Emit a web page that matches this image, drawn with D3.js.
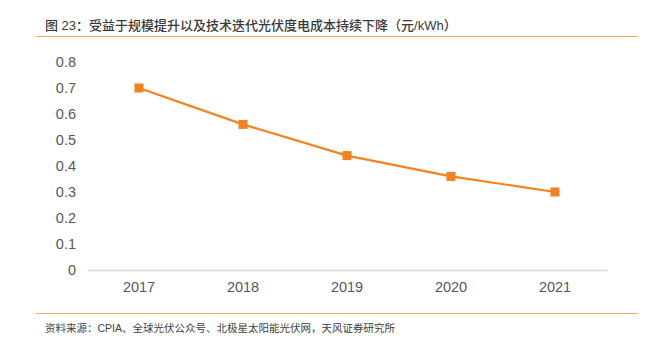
<!DOCTYPE html>
<html>
<head>
<meta charset="utf-8">
<script src="https://cdn.jsdelivr.net/npm/d3@7"></script>
<style>
  body { margin: 0; background: #fff; }
  text { font-family: "Liberation Sans", "Noto Sans CJK SC", sans-serif; }
</style>
</head>
<body>
<div id="graph"></div>
<script>
var years = ['2017', '2018', '2019', '2020', '2021']
var cost = [0.70, 0.56, 0.44, 0.36, 0.30]
var yTicks = [0, 0.1, 0.2, 0.3, 0.4, 0.5, 0.6, 0.7, 0.8]
var title = '图 23：受益于规模提升以及技术迭代光伏度电成本持续下降（元/kWh）'
var source = '资料来源：CPIA、全球光伏公众号、北极星太阳能光伏网，天风证券研究所'

var width = 661, height = 349
var svg = d3.select('#graph').append('svg')
  .attr('width', width).attr('height', height)

var orange = '#f58220'
var rule = '#f7a65a'

// header + footer
svg.append('text')
  .attr('x', 45).attr('y', 30)
  .attr('font-size', 13).attr('font-weight', 500).attr('fill', '#3a3a3a')
  .attr('font-family', '"Noto Sans CJK SC", sans-serif')
  .text(title)
svg.append('line').attr('x1', 36).attr('x2', 638).attr('y1', 36.5).attr('y2', 36.5)
  .attr('stroke', rule).attr('stroke-width', 1.2)
svg.append('line').attr('x1', 36).attr('x2', 638).attr('y1', 313.5).attr('y2', 313.5)
  .attr('stroke', rule).attr('stroke-width', 1.2)
svg.append('text')
  .attr('x', 45).attr('y', 332)
  .attr('font-size', 10.5).attr('fill', '#404040')
  .attr('font-family', '"Noto Sans CJK SC", sans-serif')
  .text(source)

var x = d3.scaleBand().domain(years).range([87, 607])
var y = d3.scaleLinear().domain([0, 0.8]).range([270, 62])

// y labels
svg.append('g')
  .attr('transform', 'translate(76,0)')
  .call(d3.axisLeft(y).tickValues(yTicks).tickSize(0).tickPadding(0)
    .tickFormat(d => d === 0 ? '0' : d3.format('.1f')(d)))
  .call(g => g.select('.domain').remove())
  .call(g => g.selectAll('text').attr('font-size', 14.5).attr('fill', '#595959')
    .attr('font-family', '"Liberation Sans", sans-serif'))

// x axis
svg.append('g')
  .attr('transform', 'translate(0,270)')
  .call(d3.axisBottom(x).tickSize(0).tickPadding(12))
  .call(g => g.select('.domain').attr('stroke', '#d9d9d9').attr('stroke-width', 1.3))
  .call(g => g.selectAll('text').attr('font-size', 14.5).attr('fill', '#595959')
    .attr('font-family', '"Liberation Sans", sans-serif'))

var cx = d => x(d) + x.bandwidth() / 2

svg.append('path')
  .datum(years.map((d, i) => [cx(d), y(cost[i])]))
  .attr('d', d3.line())
  .attr('fill', 'none').attr('stroke', orange).attr('stroke-width', 2.2)

svg.selectAll('rect.m').data(years).join('rect')
  .attr('class', 'm')
  .attr('x', d => cx(d) - 4.5)
  .attr('y', (d, i) => y(cost[i]) - 4.5)
  .attr('width', 9).attr('height', 9)
  .attr('fill', orange)
</script>
</body>
</html>
